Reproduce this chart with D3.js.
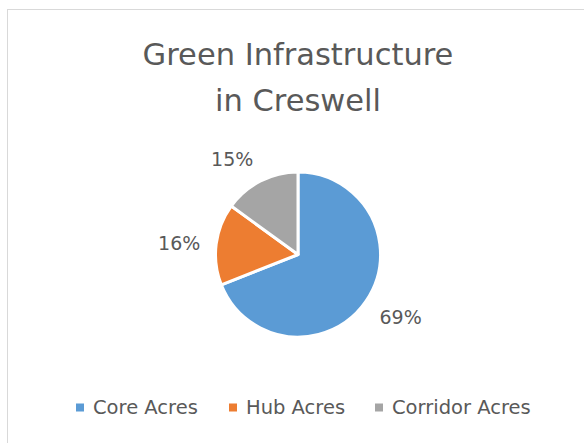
<!DOCTYPE html>
<meta charset="utf-8" />
<style>
  body { margin: 0; background: #fff; }
  text { font-family: "DejaVu Sans", "Open Sans", sans-serif; fill: #595959; }
</style>
<body>
<script src="https://d3js.org/d3.v7.min.js"></script>
<script>
  // data
  var categories = ["Core Acres", "Hub Acres", "Corridor Acres"];
  var values = [69, 16, 15];
  var colors = ["#5b9bd5", "#ed7d31", "#a5a5a5"];
  var titleLines = ["Green Infrastructure", "in Creswell"];

  var width = 584, height = 443;
  var cx = 298, cy = 254.5, radius = 82.5;

  var svg = d3.select("body").append("svg")
    .attr("width", width)
    .attr("height", height);

  // chart area frame
  svg.append("rect")
    .attr("x", 7.5).attr("y", 9.5)
    .attr("width", width + 10).attr("height", height + 10)
    .style("fill", "#fff")
    .style("stroke", "#d9d9d9");

  // title
  svg.selectAll(".title")
    .data(titleLines)
    .enter()
    .append("text")
    .attr("class", "title")
    .attr("x", 298)
    .attr("y", function (d, i) { return 65 + i * 46; })
    .attr("text-anchor", "middle")
    .style("font-size", "30.5px")
    .text(function (d) { return d; });

  var pie = d3.pie().sort(null).value(function (d) { return d; });
  var arcs = pie(values);
  var arc = d3.arc().innerRadius(0).outerRadius(radius);

  var g = svg.append("g").attr("transform", "translate(" + cx + "," + cy + ")");

  g.selectAll("path")
    .data(arcs)
    .enter()
    .append("path")
    .attr("d", arc)
    .style("fill", function (d, i) { return colors[i]; })
    .style("stroke", "#fff")
    .style("stroke-width", 3)
    .style("stroke-linejoin", "round");

  // outside-end labels: the box corner sits just beyond the rim
  var labelR = radius + 16, labelH = 20;
  g.selectAll(".lbl")
    .data(arcs)
    .enter()
    .append("text")
    .attr("class", "lbl")
    .each(function (d) {
      var a = (d.startAngle + d.endAngle) / 2,
        ux = Math.sin(a),
        uy = -Math.cos(a);
      d3.select(this)
        .attr("x", ux * labelR)
        .attr("y", uy * labelR + uy * labelH / 2 + 2)
        .attr("text-anchor", ux < 0 ? "end" : "start");
    })
    .attr("dy", "0.35em")
    .style("font-size", "19px")
    .text(function (d) { return d.data + "%"; });

  // legend
  var legendX = [76, 229, 375];
  var legend = svg.selectAll(".legend")
    .data(categories)
    .enter()
    .append("g")
    .attr("class", "legend")
    .attr("transform", function (d, i) { return "translate(" + legendX[i] + ",407.5)"; });

  legend.append("rect")
    .attr("x", 0).attr("y", -4)
    .attr("width", 8).attr("height", 8)
    .style("fill", function (d, i) { return colors[i]; });

  legend.append("text")
    .attr("x", 17)
    .attr("dy", "0.35em")
    .style("font-size", "19.5px")
    .text(function (d) { return d; });
</script>
</body>
